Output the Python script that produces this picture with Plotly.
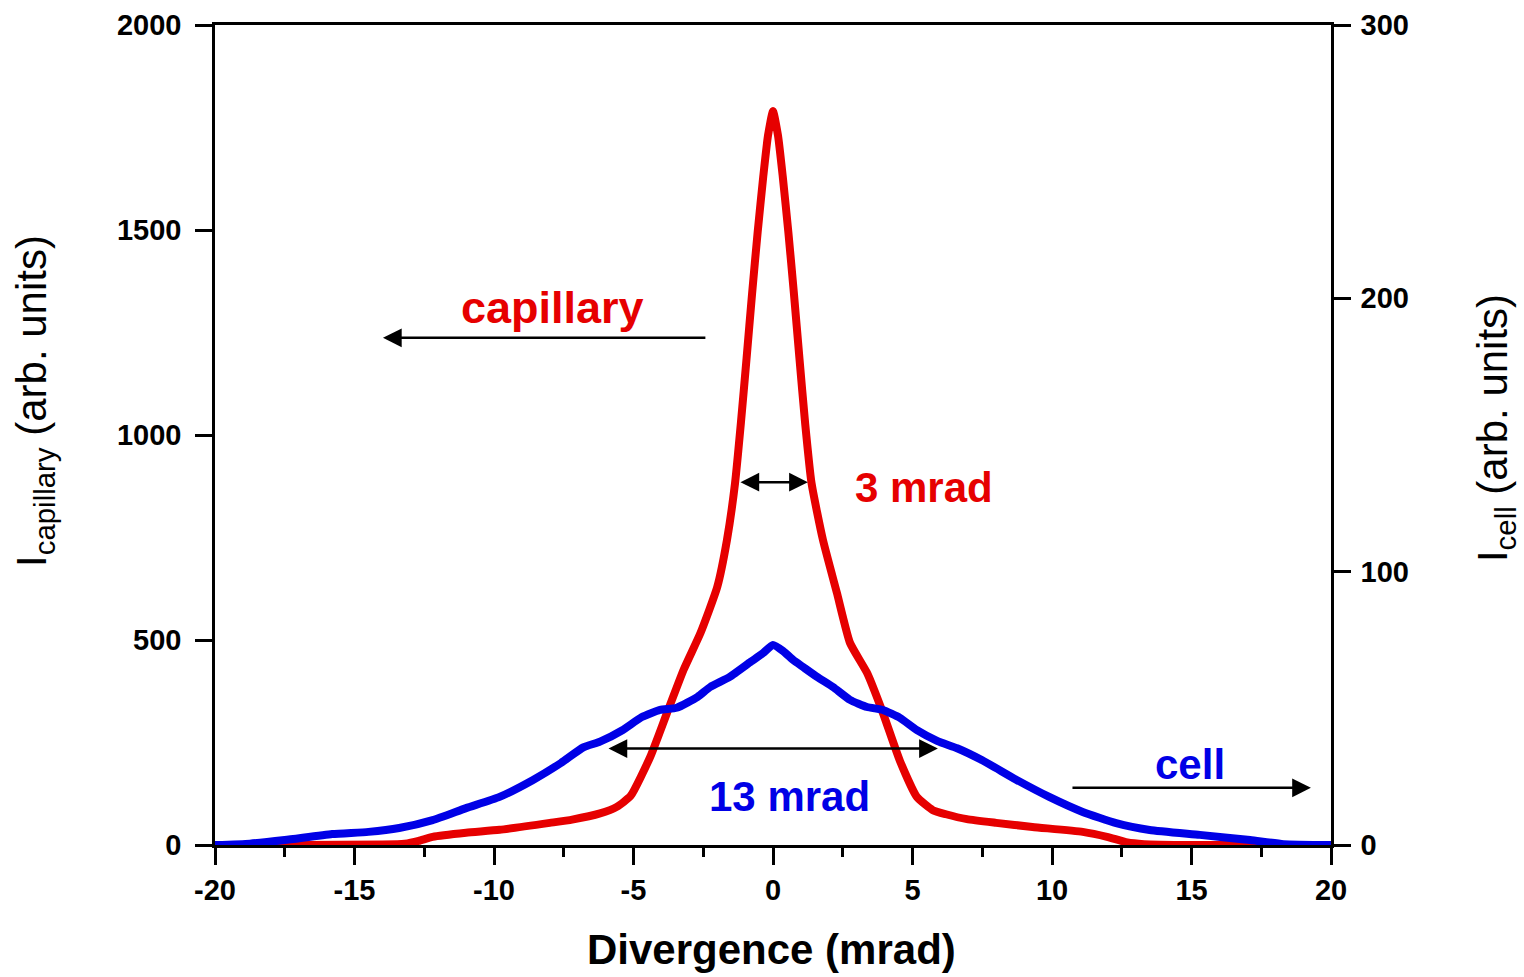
import plotly.graph_objects as go

# Capillary beam profile (left axis)
cap_x = [-20, -17, -14, -13.2, -12.7, -12.2, -11.0, -9.8, -8.0, -7.2, -6.2, -5.6, -5.1, -4.4,
         -3.8, -3.2, -2.6, -2.0, -1.65, -1.36, -1.15, -0.95, -0.75, -0.55, -0.35, -0.18,
         0.0, 0.18, 0.35, 0.55, 0.75, 0.95, 1.15, 1.38, 1.79, 2.29, 2.76, 3.37, 3.94,
         4.55, 5.16, 5.73, 6.2, 6.95, 8.0, 9.3, 11.1, 11.97, 12.7, 13.3, 15.0, 17.0, 20.0]
cap_y = [0, 0, 1, 3, 10, 20, 30, 37, 54, 62, 77, 93, 120, 215,
         322, 428, 517, 629, 744, 883, 1030, 1185, 1345, 1495, 1630, 1730,
         1790, 1730, 1630, 1495, 1345, 1185, 1030, 883, 744, 615, 493, 420, 322,
         205, 117, 85, 75, 63, 54, 44, 32, 20, 6, 2, 0, 0, 0]

# Gas-cell beam profile (right axis)
cell_x = [-20, -18.75, -17.5, -15.8, -14.5, -13.4, -12.2, -11.0, -9.8, -8.6, -7.6, -6.8, -6.2,
          -5.4, -4.7, -4.05, -3.45, -2.7, -2.25, -1.55, -0.8, -0.36, 0.0, 0.36, 0.72, 1.08,
          1.58, 2.15, 2.76, 3.37, 3.94, 4.55, 5.16, 5.9, 6.6, 7.5, 8.7, 9.9, 11.1, 12.3,
          13.5, 15.3, 17.1, 18.3, 20.0]
cell_y = [0, 0.5, 1.8, 4.0, 4.8, 6.2, 9.1, 13.5, 17.6, 23.8, 30.0, 35.7, 37.8,
          42.0, 46.8, 49.4, 50.2, 54.2, 57.8, 61.5, 67.0, 70.2, 73.2, 71.0, 67.7, 65.1,
          61.5, 57.8, 53.1, 50.5, 49.4, 46.5, 42.0, 38.0, 35.4, 31.0, 24.0, 17.6, 12.1, 8.0,
          5.5, 3.7, 1.8, 0.3, 0]

x_ticks = [-20, -15, -10, -5, 0, 5, 10, 15, 20]
x_tick_labels = ["-20", "-15", "-10", "-5", "0", "5", "10", "15", "20"]
cap_ticks = [0, 500, 1000, 1500, 2000]
cell_ticks = [0, 100, 200, 300]

RED = "#e60000"
BLUE = "#0000e6"
FONT = "Arial, Liberation Sans, sans-serif"

fig = go.Figure()
fig.add_trace(go.Scatter(x=cap_x, y=cap_y, mode="lines", yaxis="y",
                         line=dict(color=RED, width=8, shape="spline", smoothing=0.5),
                         showlegend=False))
fig.add_trace(go.Scatter(x=cell_x, y=cell_y, mode="lines", yaxis="y2",
                         line=dict(color=BLUE, width=8, shape="spline", smoothing=0.5),
                         showlegend=False))

axis_common = dict(showline=True, linewidth=2.5, linecolor="black", ticks="outside",
                   ticklen=17, tickwidth=2.5, tickcolor="black", showgrid=False,
                   zeroline=False, automargin=False,
                   tickfont=dict(family=FONT, size=29, color="black", weight="bold"))

fig.update_layout(
    width=1524, height=977,
    margin=dict(l=215, r=193, t=25, b=132),
    paper_bgcolor="white", plot_bgcolor="white",
    xaxis=dict(range=[-20, 20], tickvals=x_ticks, ticktext=x_tick_labels, mirror=True,
               minor=dict(dtick=2.5, ticks="outside", ticklen=9, tickwidth=2.5,
                          tickcolor="black"),
               **axis_common),
    yaxis=dict(range=[0, 2000], tickvals=cap_ticks, ticklabelstandoff=8, **axis_common),
    yaxis2=dict(range=[0, 300], tickvals=cell_ticks, overlaying="y", side="right",
                ticklabelstandoff=4, **axis_common),
)

# Axis titles
fig.add_annotation(x=0.499, y=-0.127, xref="paper", yref="paper",
                   text="<b>Divergence (mrad)</b>", showarrow=False,
                   xanchor="center", yanchor="middle",
                   font=dict(family=FONT, size=42, color="black"))
fig.add_annotation(x=-0.1613, y=0.5415, xref="paper", yref="paper", textangle=-90,
                   text="I<sub>capillary</sub> (arb. units)", showarrow=False,
                   xanchor="center", yanchor="middle",
                   font=dict(family=FONT, size=42, color="black"))
fig.add_annotation(x=1.147, y=0.5085, xref="paper", yref="paper", textangle=-90,
                   text="I<sub>cell</sub> (arb. units)", showarrow=False,
                   xanchor="center", yanchor="middle",
                   font=dict(family=FONT, size=42, color="black"))


def arrow(x0, x1, y, yref, both=False):
    fig.add_annotation(x=x1, y=y, ax=x0, ay=y, xref="x", yref=yref, axref="x", ayref=yref,
                       text="", showarrow=True, arrowhead=2, arrowsize=1.5, arrowwidth=2.5,
                       arrowcolor="black", arrowside="end+start" if both else "end",
                       startarrowhead=2, startarrowsize=1.5, standoff=0, startstandoff=0)


def label(text, x, y, yref, color, size=42):
    fig.add_annotation(x=x, y=y, xref="x", yref=yref, text=f"<b>{text}</b>", showarrow=False,
                       font=dict(family=FONT, size=size, color=color))


arrow(-2.37, -13.98, 1237, "y")
label("capillary", -7.9, 1312, "y", RED, size=45)
arrow(-1.22, 1.25, 885, "y", both=True)
label("3 mrad", 5.4, 871, "y", RED)
arrow(-5.95, 5.91, 35.3, "y2", both=True)
label("13 mrad", 0.6, 17.9, "y2", BLUE)
arrow(10.68, 19.28, 20.9, "y2")
label("cell", 14.95, 29.6, "y2", BLUE)

fig.write_html("out.html")
